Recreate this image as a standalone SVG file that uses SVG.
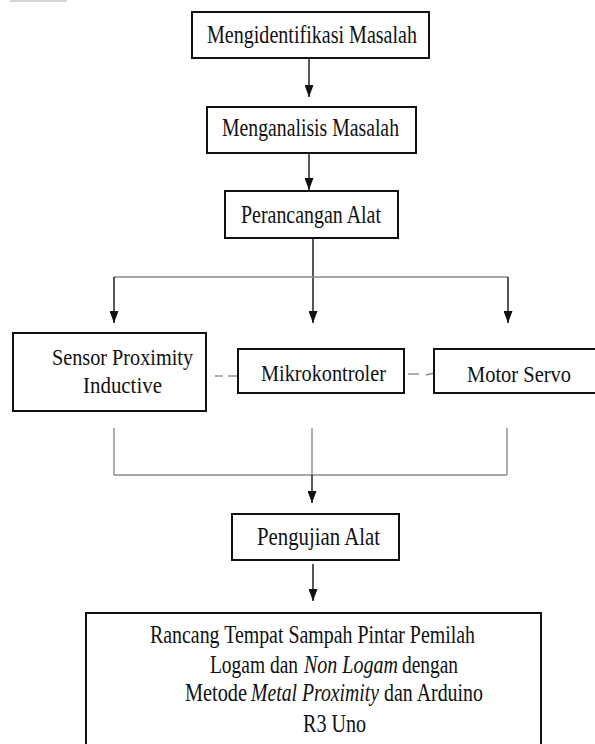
<svg xmlns="http://www.w3.org/2000/svg" width="595" height="744" viewBox="0 0 595 744">
<defs>
<style>
.box{fill:#fff;stroke:#111;stroke-width:2}
text{font-family:'Liberation Serif','Times New Roman','DejaVu Serif',serif;font-size:20px;fill:#111}
.i{font-style:italic}
.ar{stroke:#111;stroke-width:1.4;fill:none}
.gr{stroke:#8a8a8a;stroke-width:1.4;fill:none}
</style>
<marker id="ahd" viewBox="0 0 9 12" refX="4.5" refY="12" markerWidth="9" markerHeight="12" markerUnits="userSpaceOnUse" orient="0">
<path d="M0,0 L9,0 L4.5,12 Z" fill="#111"/>
</marker>
</defs>
<rect x="10" y="0" width="57" height="2" fill="#d4d4d4"/>
<g id="connectors">
<line class="ar" x1="309" y1="58" x2="309" y2="97" marker-end="url(#ahd)"/>
<line class="ar" x1="309" y1="153" x2="309" y2="190" marker-end="url(#ahd)"/>
<line class="ar" x1="313" y1="238" x2="313" y2="323" marker-end="url(#ahd)"/>
<line class="gr" x1="114" y1="277" x2="508" y2="277"/>
<line class="ar" x1="114" y1="277" x2="114" y2="323" marker-end="url(#ahd)"/>
<line class="ar" x1="508" y1="277" x2="508" y2="323" marker-end="url(#ahd)"/>
<line class="gr" x1="215" y1="376" x2="223" y2="376"/>
<line class="gr" x1="228" y1="376" x2="238" y2="376"/>
<line class="gr" x1="408" y1="374" x2="419" y2="374"/>
<line class="gr" x1="426" y1="375" x2="434" y2="373"/>
<line class="gr" x1="114" y1="428" x2="114" y2="475"/>
<line class="gr" x1="312" y1="428" x2="312" y2="475"/>
<line class="gr" x1="507" y1="428" x2="507" y2="475"/>
<line class="gr" x1="114" y1="475" x2="507" y2="475"/>
<line class="ar" x1="312" y1="475" x2="312" y2="503" marker-end="url(#ahd)"/>
<line class="ar" x1="313" y1="564" x2="313" y2="601" marker-end="url(#ahd)"/>
</g>
<g id="n1">
<rect class="box" x="192" y="12" width="237" height="46"/>
<text transform="translate(207,43) scale(1,1.22)" textLength="210" lengthAdjust="spacingAndGlyphs">Mengidentifikasi Masalah</text>
</g>
<g id="n2">
<rect class="box" x="207" y="107" width="209" height="46"/>
<text transform="translate(222,136) scale(1,1.22)" textLength="177" lengthAdjust="spacingAndGlyphs">Menganalisis Masalah</text>
</g>
<g id="n3">
<rect class="box" x="225" y="191" width="173" height="47"/>
<text transform="translate(241,223) scale(1,1.22)" textLength="140" lengthAdjust="spacingAndGlyphs">Perancangan Alat</text>
</g>
<g id="n4">
<rect class="box" x="13" y="333" width="193" height="78"/>
<text transform="translate(52,365) scale(1,1.12)" textLength="141" lengthAdjust="spacingAndGlyphs">Sensor Proximity</text>
<text transform="translate(83,393) scale(1,1.12)" textLength="79" lengthAdjust="spacingAndGlyphs">Inductive</text>
</g>
<g id="n5">
<rect class="box" x="238" y="349" width="166" height="44"/>
<text transform="translate(261,381) scale(1,1.18)" textLength="125" lengthAdjust="spacingAndGlyphs">Mikrokontroler</text>
</g>
<g id="n6">
<rect class="box" x="434" y="349" width="164" height="44"/>
<text transform="translate(467,382) scale(1,1.18)" textLength="104" lengthAdjust="spacingAndGlyphs">Motor Servo</text>
</g>
<g id="n7">
<rect class="box" x="232" y="514" width="167" height="46"/>
<text transform="translate(257,545) scale(1,1.22)" textLength="123" lengthAdjust="spacingAndGlyphs">Pengujian Alat</text>
</g>
<g id="n8">
<rect class="box" x="86" y="613" width="455" height="135"/>
<text transform="translate(150,643) scale(1,1.22)" textLength="325" lengthAdjust="spacingAndGlyphs">Rancang Tempat Sampah Pintar Pemilah</text>
<text transform="translate(210,673) scale(1,1.22)" textLength="88" lengthAdjust="spacingAndGlyphs">Logam dan</text>
<text class="i" transform="translate(304,673) scale(1,1.22)" textLength="94" lengthAdjust="spacingAndGlyphs">Non Logam</text>
<text transform="translate(402,673) scale(1,1.22)" textLength="56" lengthAdjust="spacingAndGlyphs">dengan</text>
<text transform="translate(185,701) scale(1,1.22)" textLength="62" lengthAdjust="spacingAndGlyphs">Metode</text>
<text class="i" transform="translate(251,701) scale(1,1.22)" textLength="128" lengthAdjust="spacingAndGlyphs">Metal Proximity</text>
<text transform="translate(384,701) scale(1,1.22)" textLength="99" lengthAdjust="spacingAndGlyphs">dan Arduino</text>
<text transform="translate(303,732) scale(1,1.22)" textLength="63" lengthAdjust="spacingAndGlyphs">R3 Uno</text>
</g>
</svg>
